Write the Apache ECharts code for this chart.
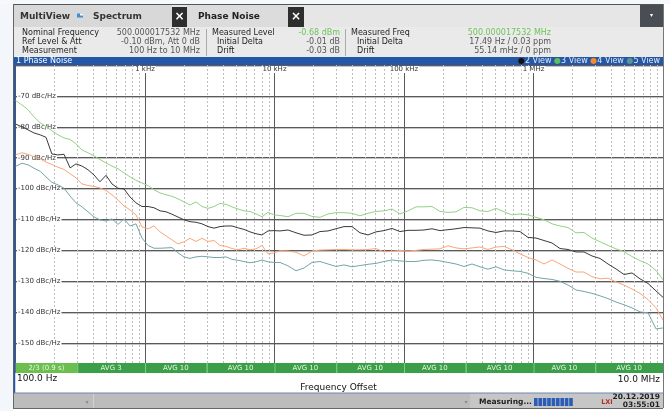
<!DOCTYPE html>
<html><head><meta charset="utf-8">
<script src="https://cdn.jsdelivr.net/npm/echarts/dist/echarts.min.js"></script>
<style>html,body{margin:0;padding:0;background:#fff;}#c{width:670px;height:411px;}</style>
</head><body><div id="c"></div>
<script>
// ---- data ----
const freqHz = [100,112,125,139,155,172,191,213,237,264,293,326,363,404,449,500,556,619,688,766,852,948,1055,1174,1306,1453,1616,1798,2001,2226,2476,2755,3065,3410,3794,4221,4696,5225,5813,6468,7195,8006,8907,9910,11030,
12710,14660,16900,19480,22460,25890,29850,34410,39680,45730,52720,60780,70070,80780,93140,107400,123800,142700,164500,189700,218700,252100,290600,335100,386300,445400,513400,591900,682400,786800,907000,1046000,1205000,1390000,1602000,1847000,2129000,2455000,2830000,3263000,3762000,4337000,4999000,5763000,6644000,7660000,8830000,10000000];

const view2Black = [-79.1,-80.0,-81.0,-82.0,-82.6,-83.4,-88.8,-89.1,-88.9,-93.3,
-92.0,-92.7,-93.9,-95.6,-97.8,-95.7,-98.5,-99.9,-100.1,-102.7,
-104.6,-105.8,-105.8,-106.2,-107.2,-107.5,-108.3,-109.2,-110.1,-110.7,
-110.9,-111.4,-112.3,-112.8,-112.3,-112.1,-112.1,-112.7,-113.2,-114.0,
-114.6,-115.0,-113.7,-113.6,-113.7,
-113.4,-114.3,-115.1,-115.0,-113.9,-113.7,-113.0,-112.3,-112.3,-114.3,
-115.0,-114.0,-113.6,-112.9,-113.9,-113.5,-113.5,-113.4,-113.0,-113.6,
-113.3,-113.0,-112.6,-112.7,-112.8,-113.7,-114.2,-113.7,-113.7,-113.9,
-115.8,-116.0,-116.8,-117.6,-119.4,-119.7,-120.5,-120.5,-121.8,-122.6,
-124.4,-126.0,-127.8,-127.3,-129.2,-130.7,-133.1,-135.2];

const view3Green = [-71.5,-72.9,-74.5,-76.8,-78.7,-79.9,-81.3,-82.6,-83.6,-84.1,
-85.5,-87.5,-88.4,-89.4,-90.6,-91.7,-92.7,-93.6,-94.9,-96.2,
-97.3,-98.2,-99.0,-100.4,-101.4,-102.0,-102.5,-103.3,-104.3,-105.3,
-104.3,-105.8,-106.4,-105.8,-104.8,-105.1,-105.9,-106.6,-107.2,-107.4,
-108.2,-109.1,-107.7,-108.5,-108.7,
-109.1,-108.0,-108.0,-109.0,-109.3,-108.2,-107.8,-107.8,-108.0,-108.8,
-108.0,-107.4,-107.2,-106.6,-108.2,-107.2,-105.9,-105.9,-105.8,-107.4,
-107.7,-107.5,-106.1,-106.2,-107.2,-107.4,-106.4,-107.5,-108.5,-108.2,
-108.5,-109.3,-110.1,-111.4,-112.1,-112.6,-114.3,-114.2,-116.0,-117.2,
-118.4,-119.5,-120.4,-122.0,-123.3,-124.4,-126.5,-129.5];

const view4Orange = [-89.1,-88.4,-88.9,-89.7,-90.4,-91.4,-92.2,-93.1,-93.8,-95.2,
-96.5,-98.5,-99.0,-99.3,-99.8,-100.6,-102.0,-103.7,-105.6,-106.9,
-108.5,-112.4,-113.0,-112.1,-114.0,-115.3,-116.6,-117.9,-117.2,-116.1,
-117.1,-116.1,-117.1,-116.8,-118.4,-118.7,-119.4,-119.8,-119.3,-119.8,
-119.5,-118.4,-121.1,-120.8,-120.1,
-120.2,-120.6,-121.8,-120.2,-119.9,-119.8,-119.7,-119.7,-119.8,-119.8,
-119.7,-119.4,-120.5,-120.3,-120.0,-120.2,-120.0,-119.7,-119.6,-119.5,
-118.5,-119.2,-119.5,-119.2,-118.9,-119.7,-118.9,-118.7,-119.8,-121.1,
-122.3,-123.1,-124.4,-123.1,-124.4,-125.8,-127.0,-127.0,-128.5,-129.2,
-129.0,-130.2,-131.2,-132.5,-133.9,-135.9,-138.6,-142.5];

const view5Teal = [-92.8,-91.8,-92.3,-93.4,-94.4,-96.2,-98.0,-98.8,-99.9,-102.4,
-104.6,-105.9,-107.5,-109.2,-110.1,-110.5,-109.8,-111.6,-109.8,-112.1,
-111.4,-116.0,-118.4,-119.3,-119.3,-119.2,-119.1,-120.8,-122.1,-122.6,
-122.1,-121.9,-122.1,-122.3,-122.3,-122.1,-122.9,-123.2,-123.6,-124.0,
-123.7,-123.1,-123.7,-123.9,-123.9,
-125.0,-126.6,-125.7,-123.9,-123.6,-124.4,-125.2,-124.7,-125.3,-124.9,
-124.5,-124.2,-123.6,-123.1,-123.4,-123.6,-123.6,-123.2,-123.1,-123.4,
-123.9,-124.4,-125.2,-124.4,-125.3,-126.1,-125.3,-126.3,-126.6,-126.8,
-127.4,-128.7,-129.1,-129.4,-130.0,-131.2,-132.8,-133.3,-133.9,-134.7,
-135.6,-136.7,-137.6,-138.6,-139.9,-140.2,-145.4,-145.1];

const seriesNames = ['2 View','3 View','4 View','5 View'];
const seriesColors = ['#3a3a3a','#93d283','#f8a677','#74a5a5'];
const legendDotColors = ['#111111','#5cc15c','#f5892e','#5c9494'];
const topTicks = [1000, 10000, 100000, 1000000];
const topTickLabels = ['1 kHz', '10 kHz', '100 kHz', '1 MHz'];
const yTicks = [-70, -80, -90, -100, -110, -120, -130, -140, -150];
const avgBounds = [100,300,1000,3000,10000,30000,100000,300000,1000000,3000000,10000000];
const avgLabels = ['2/3 (0.9 s)','AVG 3','AVG 10','AVG 10','AVG 10','AVG 10','AVG 10','AVG 10','AVG 10','AVG 10'];

const FONT = '"DejaVu Sans"';
const minorTicks = [];
for (let d = 100; d < 1e7; d *= 10) for (let k = 2; k <= 9; k++) minorTicks.push(d * k);

const chart = echarts.init(document.getElementById('c'));
const traces = [view2Black, view3Green, view4Orange, view5Teal];

const option = {
  animation: false,
  backgroundColor: '#ffffff',
  textStyle: {fontFamily: 'DejaVu Sans'},
  grid: {left: 15.5, right: 7, top: 65, bottom: 37, containLabel: false, outerBoundsMode: 'none'},
  xAxis: {
    type: 'log', logBase: 10, min: 100, max: 1e7, position: 'top',
    axisLine: {show: false}, axisTick: {show: false}, axisLabel: {show: false},
    splitLine: {show: true, lineStyle: {color: '#5a5a5a', width: 1}}
  },
  yAxis: {
    type: 'value', min: -160, max: -60, interval: 10,
    axisLine: {show: false}, axisTick: {show: false}, axisLabel: {show: false},
    splitLine: {show: true, lineStyle: {color: '#5a5a5a', width: 1, shadowColor: '#c4c4c4', shadowOffsetY: 1, shadowBlur: 0}}
  },
  series: traces.map((arr, i) => ({
    type: 'line', name: seriesNames[i], showSymbol: false, symbol: 'none', silent: true, z: 3,
    lineStyle: {color: seriesColors[i], width: 1}, itemStyle: {color: seriesColors[i]},
    data: freqHz.map((f, j) => [f, arr[j]])
  }))
};
chart.setOption(option);

// ---- screen chrome ----
function R(x, y, w, h, fill, z) { return {type: 'rect', shape: {x, y, width: w, height: h}, style: {fill}, z: z || 100, silent: true}; }
function T(x, y, text, o) {
  o = o || {};
  const st = {text, fill: o.c || '#222', font: (o.b ? 'bold ' : '') + (o.s || 8) + 'px ' + FONT,
      align: o.a || 'left', verticalAlign: 'middle', textAlign: o.a || 'left', textVerticalAlign: 'middle'};
  if (o.bg) { st.backgroundColor = o.bg; st.padding = [0, 1]; }
  return {type: 'text', x, y, z: o.z || 110, silent: true, style: st};
}
function L(x1, y1, x2, y2, stroke, w, z, dash) {
  const st = {stroke, lineWidth: w || 1};
  if (dash) st.lineDash = dash;
  return {type: 'line', shape: {x1, y1, x2, y2}, style: st, z: z || 105, silent: true};
}

const px = f => chart.convertToPixel({xAxisIndex: 0}, f);
const py = v => chart.convertToPixel({yAxisIndex: 0}, v);
const g = [];
// minor (2..9) frequency grid lines, placed by the log axis
minorTicks.forEach(f => { const x = Math.round(px(f)) + 0.5; g.push(L(x, 65, x, 373, '#bdbdbd', 1, 1, [2, 2])); });
// axis tick labels inside the plot
yTicks.forEach(v => g.push(T(17, py(v), v + ' dBc/Hz', {s: 7, c: '#333', bg: '#fff', z: 2})));
topTicks.forEach((f, i) => g.push(T(px(f), 69.5, topTickLabels[i], {s: 7, c: '#333', bg: '#fff', a: 'center', z: 2})));
// outer background
g.push(R(0, 0, 13, 411, '#f3f7fb', 90));
g.push(R(0, 0, 670, 4, '#f6f9fc', 90));
// tab bar
g.push(R(14, 5, 649, 22, '#e6e6e6'));
g.push(R(14, 5, 158, 22, '#d8d8d8'));
g.push(R(187, 5, 101, 22, '#dcdcdc'));
g.push(R(172, 7, 15, 20, '#2e2e2e'));
g.push(R(288, 7, 16, 20, '#2e2e2e'));
g.push(R(640, 5, 23, 22, '#494d54'));
g.push(T(20, 16.5, 'MultiView', {b: 1, s: 9, c: '#333'}));
g.push(R(77, 13.5, 6, 4, '#3d8fd6', 106));
g.push(R(80, 13.5, 3, 2, '#ffffff', 107));
g.push(T(93, 16.5, 'Spectrum', {b: 1, s: 9, c: '#333'}));
g.push(T(179.5, 16.5, '×', {b: 1, s: 12, c: '#fff', a: 'center'}));
g.push(T(198, 16.5, 'Phase Noise', {b: 1, s: 9, c: '#222'}));
g.push(T(296, 16.5, '×', {b: 1, s: 12, c: '#fff', a: 'center'}));
g.push(T(651.5, 15, '▾', {s: 6, c: '#fff', a: 'center'}));
// info panel
g.push(R(14, 27, 649, 30, '#eaeaea'));
g.push(L(206.5, 29, 206.5, 56, '#a9a9a9'));
g.push(L(345.5, 29, 345.5, 56, '#a9a9a9'));
const rows = [32.5, 41.5, 50.5];
const lab = '#1e1e1e', val = '#555', grn = '#6fc25a';
g.push(T(22, rows[0], 'Nominal Frequency', {c: lab}));
g.push(T(22, rows[1], 'Ref Level & Att', {c: lab}));
g.push(T(22, rows[2], 'Measurement', {c: lab}));
g.push(T(200, rows[0], '500.000017532 MHz', {c: val, a: 'right'}));
g.push(T(200, rows[1], '-0.10 dBm, Att 0 dB', {c: val, a: 'right'}));
g.push(T(200, rows[2], '100 Hz to 10 MHz', {c: val, a: 'right'}));
g.push(T(212, rows[0], 'Measured Level', {c: lab}));
g.push(T(217, rows[1], 'Initial Delta', {c: lab}));
g.push(T(217, rows[2], 'Drift', {c: lab}));
g.push(T(340, rows[0], '-0.68 dBm', {c: grn, a: 'right'}));
g.push(T(340, rows[1], '-0.01 dB', {c: val, a: 'right'}));
g.push(T(340, rows[2], '-0.03 dB', {c: val, a: 'right'}));
g.push(T(351, rows[0], 'Measured Freq', {c: lab}));
g.push(T(357, rows[1], 'Initial Delta', {c: lab}));
g.push(T(357, rows[2], 'Drift', {c: lab}));
g.push(T(551, rows[0], '500.000017532 MHz', {c: grn, a: 'right'}));
g.push(T(551, rows[1], '17.49 Hz / 0.03 ppm', {c: val, a: 'right'}));
g.push(T(551, rows[2], '55.14 mHz / 0 ppm', {c: val, a: 'right'}));
// blue title bar
g.push(R(14, 57, 649, 8, '#2557a7'));
g.push(T(16, 61, '1 Phase Noise', {c: '#fff'}));
const rich = {};
let legendText = '';
seriesNames.forEach((n, i) => { rich['d' + i] = {fill: legendDotColors[i], font: '8px ' + FONT}; legendText += (i ? ' ' : '') + '{d' + i + '|●}' + n; });
g.push({type: 'text', x: 660, y: 61, z: 110, silent: true,
  style: {text: legendText, rich, fill: '#e4e8f0', font: '8px ' + FONT, align: 'right', verticalAlign: 'middle', textAlign: 'right', textVerticalAlign: 'middle'}});
// bottom white area + avg bar
g.push(R(14, 373, 649, 20, '#ffffff'));
for (let i = 0; i < avgLabels.length; i++) {
  const x0 = px(avgBounds[i]), x1 = px(avgBounds[i + 1]);
  g.push(R(x0, 363, x1 - x0, 10, i === 0 ? '#6cbf4e' : '#3b9e48', 101));
  if (i > 0) g.push(L(x0 + 0.5, 363, x0 + 0.5, 373, '#7fcf7f', 1, 102));
  g.push(T((x0 + x1) / 2, 368, avgLabels[i], {s: 7, c: '#e6f4e6', a: 'center'}));
}
g.push(T(17, 379, '100.0 Hz', {s: 9, c: '#111'}));
g.push(T(660, 380, '10.0 MHz', {s: 9, c: '#111', a: 'right'}));
g.push(T(338.5, 388, 'Frequency Offset', {s: 9, c: '#111', a: 'center'}));
// status bar
g.push(R(14, 393, 649, 15, '#bcbcbc'));
g.push(R(470, 393, 193, 15, '#c6c6c6'));
g.push(L(93.5, 394, 93.5, 408, '#d2d2d2'));
g.push(T(87, 402, '▾', {s: 6, c: '#8a8a8a', a: 'center'}));
g.push(T(466, 402, '▾', {s: 6, c: '#8a8a8a', a: 'center'}));
g.push(T(479, 402.5, 'Measuring...', {b: 1, s: 7.5, c: '#222'}));
for (let k = 0; k < 9; k++) g.push(R(534 + k * 4.4, 398, 3.6, 8, '#2b5cb8', 106));
g.push(T(607, 402.5, 'LXI', {b: 1, s: 6.5, c: '#b0322a', a: 'center'}));
g.push(T(660, 397.5, '20.12.2019', {b: 1, s: 7.5, c: '#222', a: 'right'}));
g.push(T(660, 405.5, '03:55:01', {b: 1, s: 7.5, c: '#222', a: 'right'}));
// frame lines
g.push(L(13, 4.5, 663, 4.5, '#555', 1));
g.push(L(13.5, 4, 13.5, 408, '#666', 1));
g.push(L(14.5, 57, 14.5, 393, '#2557a7', 1.5));
g.push(L(663.5, 4, 663.5, 408, '#777', 1));
g.push(L(14, 393, 663, 393, '#6f86b3', 1));
g.push(L(13, 408.5, 663, 408.5, '#666', 1));

chart.setOption({graphic: {elements: g}});
</script>
</body></html>
